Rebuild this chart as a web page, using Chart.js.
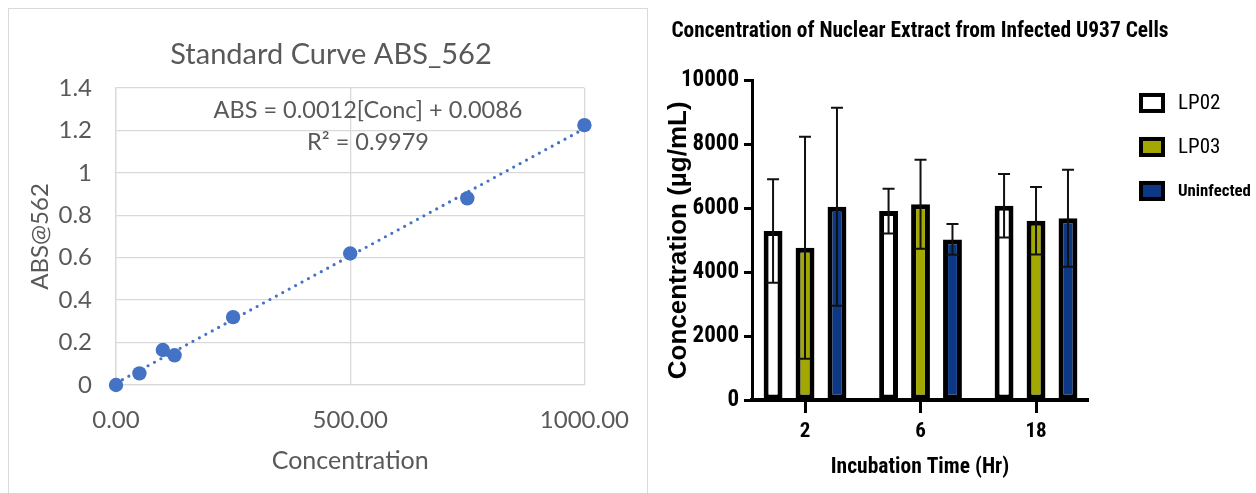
<!DOCTYPE html>
<html><head><meta charset="utf-8">
<script src="https://cdn.jsdelivr.net/npm/chart.js@4.4.1/dist/chart.umd.min.js"></script>
<style>
html,body{margin:0;padding:0;background:#fff;width:1256px;height:493px;overflow:hidden;}
#frame{position:absolute;left:8px;top:8px;width:640px;height:520px;border:1px solid #d9d9d9;box-sizing:border-box;}
#leftWrap{position:absolute;left:0;top:0;width:650px;height:493px;}
#rightWrap{position:absolute;left:650px;top:0;width:606px;height:493px;}
canvas{display:block;}
</style></head><body>
<div id="frame"></div>
<div id="leftWrap"><canvas id="left" width="650" height="493"></canvas></div>
<div id="rightWrap"><canvas id="right" width="606" height="493"></canvas></div>
<script>
// ---------- Left chart data (Standard curve) ----------
const stdConc = [0, 50, 100, 125, 250, 500, 750, 1000];
const stdAbs  = [0, 0.055, 0.165, 0.14, 0.32, 0.62, 0.88, 1.225];
const trendConc = [0, 1000];
const trendAbs  = [0.0086, 1.2086];
const xTickLabels = ['0.00', '500.00', '1000.00'];
const yTickLabels = ['0', '0.2', '0.4', '0.6', '0.8', '1', '1.2', '1.4'];
const trendText = ['ABS = 0.0012[Conc] + 0.0086', 'R\u00B2 = 0.9979'];

// ---------- Right chart data (bar chart with SD) ----------
const times = ['2', '6', '18'];
const lp02Mean = [5290, 5915, 6085];
const lp02Sd   = [1620, 700, 995];
const lp03Mean = [4770, 6130, 5615];
const lp03Sd   = [3475, 1390, 1055];
const uninfMean = [6050, 5030, 5690];
const uninfSd   = [3100, 480, 1520];
const concTickLabels = ['0', '2000', '4000', '6000', '8000', '10000'];

const F1 = "Lato, 'Open Sans', sans-serif";
const F2 = "Roboto, 'Open Sans', sans-serif";
const F3 = "'Liberation Sans', Arial, sans-serif";
const GREY = '#595959';

const trendLabelPlugin = {
  id: 'trendLabel',
  afterDatasetsDraw(chart, args, opts) {
    const {ctx} = chart; const x = chart.scales.x, y = chart.scales.y;
    ctx.save();
    ctx.font = opts.size + 'px ' + F1;
    ctx.fillStyle = GREY; ctx.textAlign = 'center'; ctx.textBaseline = 'middle';
    opts.lines.forEach((t, i) => ctx.fillText(t, x.getPixelForValue(opts.atX), y.getPixelForValue(opts.atY[i])));
    ctx.restore();
  }
};

new Chart(document.getElementById('left'), {
  type: 'scatter',
  data: { datasets: [
    { label: 'ABS', data: stdConc.map((c, i) => ({x: c, y: stdAbs[i]})), clip: false,
      backgroundColor: '#4472C4', borderColor: '#4472C4', pointRadius: 7.2, pointHoverRadius: 7.2, pointBorderWidth: 0, order: 0 },
    { type: 'line', label: 'Linear', data: trendConc.map((c, i) => ({x: c, y: trendAbs[i]})),
      borderColor: '#4472C4', borderWidth: 3.2, borderDash: [0, 7.3], borderCapStyle: 'round',
      pointRadius: 0, fill: false, order: 1 }
  ]},
  options: {
    responsive: false, animation: false, events: [],
    layout: { padding: { left: 12, right: 0, top: 0, bottom: 0 } },
    plugins: {
      legend: { display: false }, tooltip: { enabled: false },
      title: { display: true, text: 'Standard Curve ABS_562', color: GREY,
        font: { family: F1, size: 29, weight: 'normal' }, padding: { top: 37.6, bottom: 15.6 } },
      trendLabel: { lines: trendText, atX: 538, atY: [1.296, 1.145], size: 23.5 }
    },
    scales: {
      x: { type: 'linear', min: 0, max: 1000,
        ticks: { stepSize: 500, color: GREY, font: { family: F1, size: 24 }, padding: 21,
          callback: (v, i) => xTickLabels[i] },
        grid: { color: '#d9d9d9', lineWidth: 1.3, drawTicks: false },
        border: { color: '#d9d9d9', width: 1.3 },
        title: { display: true, text: 'Concentration', color: GREY, font: { family: F1, size: 25 }, padding: { top: 0, bottom: 17 } },
        afterFit(s) { s.height = 108; } },
      y: { type: 'linear', min: 0, max: 1.4,
        ticks: { stepSize: 0.2, color: GREY, font: { family: F1, size: 24 }, padding: 24,
          callback: (v, i) => yTickLabels[i] },
        grid: { color: '#d9d9d9', lineWidth: 1.3, drawTicks: false },
        border: { color: '#d9d9d9', width: 1.3 },
        title: { display: true, text: 'ABS@562', color: GREY, font: { family: F1, size: 24 }, padding: { top: 13.6, bottom: 0 } },
        afterFit(s) { s.width = 104; } },
      yR: { type: 'linear', position: 'right', display: true,
        grid: { display: false }, border: { display: false }, ticks: { display: false },
        afterFit(s) { s.width = 60; } }
    }
  },
  plugins: [trendLabelPlugin]
});

const errorBarPlugin = {
  id: 'errorBars',
  afterDatasetsDraw(chart, args, opts) {
    const {ctx} = chart; const y = chart.scales.y;
    ctx.save(); ctx.strokeStyle = opts.color; ctx.lineWidth = opts.width;
    chart.data.datasets.forEach((ds, di) => {
      const meta = chart.getDatasetMeta(di);
      meta.data.forEach((bar, i) => {
        const m = ds.data[i].y, sd = ds.sd[i];
        const top = y.getPixelForValue(m + sd), bot = y.getPixelForValue(m - sd);
        ctx.beginPath();
        ctx.moveTo(bar.x, top); ctx.lineTo(bar.x, bot);
        ctx.moveTo(bar.x - opts.cap, top); ctx.lineTo(bar.x + opts.cap, top);
        ctx.moveTo(bar.x - opts.cap, bot); ctx.lineTo(bar.x + opts.cap, bot);
        ctx.stroke();
      });
    });
    ctx.restore();
  }
};

const boxLegendPlugin = {
  id: 'boxLegend',
  afterDraw(chart, args, opts) {
    const {ctx, chartArea} = chart;
    ctx.save();
    chart.data.datasets.forEach((ds, i) => {
      const cy = chartArea.top + opts.firstY + i * opts.gap;
      const bx = chartArea.right + opts.boxX;
      ctx.fillStyle = ds.backgroundColor;
      ctx.fillRect(bx, cy - opts.boxH / 2, opts.boxW, opts.boxH);
      ctx.strokeStyle = '#000'; ctx.lineWidth = 4;
      ctx.strokeRect(bx + 2, cy - opts.boxH / 2 + 2, opts.boxW - 4, opts.boxH - 4);
      ctx.fillStyle = '#000'; ctx.textAlign = 'left'; ctx.textBaseline = 'middle';
      ctx.font = opts.fonts[i];
      ctx.fillText(ds.label, chartArea.right + opts.textX, cy + 1);
    });
    ctx.restore();
  }
};

const barCommon = { borderColor: '#000', borderWidth: 5, borderSkipped: false,
  categoryPercentage: 0.83, barPercentage: 0.59 };
const asPoints = arr => arr.map((v, i) => ({ x: i, y: v }));

new Chart(document.getElementById('right'), {
  type: 'bar',
  data: { datasets: [
    Object.assign({ label: 'LP02', data: asPoints(lp02Mean), sd: lp02Sd, backgroundColor: '#ffffff' }, barCommon),
    Object.assign({ label: 'LP03', data: asPoints(lp03Mean), sd: lp03Sd, backgroundColor: '#a2a800' }, barCommon),
    Object.assign({ label: 'Uninfected', data: asPoints(uninfMean), sd: uninfSd, backgroundColor: '#0c3886' }, barCommon)
  ]},
  options: {
    responsive: false, animation: false, events: [],
    layout: { padding: { left: 0, right: 66, top: 0, bottom: 0 } },
    plugins: {
      legend: { display: false }, tooltip: { enabled: false },
      title: { display: true, text: 'Concentration of Nuclear Extract from Infected U937 Cells', color: '#000',
        font: { family: F2, size: 21.4, weight: 'bold condensed' }, padding: { top: 19.2, bottom: 35.8 } },
      errorBars: { color: '#111', width: 2, cap: 6 },
      boxLegend: { firstY: 22.3, gap: 44, boxX: 51, boxW: 26, boxH: 20, textX: 90,
        fonts: ['condensed 21px ' + F2, 'condensed 21px ' + F2, 'bold condensed 16.8px ' + F2] }
    },
    scales: {
      x: { type: 'linear', min: -0.459, max: 2.45, offset: false,
        afterBuildTicks(s) { s.ticks = times.map((t, i) => ({ value: i })); },
        grid: { offset: false, drawOnChartArea: false, drawTicks: true, tickLength: 13, tickWidth: 3, color: '#000' },
        border: { display: true, width: 4, color: '#000' },
        ticks: { color: '#000', font: { family: F2, size: 21, weight: 'bold condensed' }, padding: 6,
          callback: (v, i) => times[i] },
        title: { display: true, text: 'Incubation Time (Hr)', color: '#000', font: { family: F2, size: 21.5, weight: 'bold condensed' }, padding: { top: 0, bottom: 12 } },
        afterFit(s) { s.height = 93; } },
      y: { min: 0, max: 10000,
        ticks: { stepSize: 2000, color: '#000', font: { family: F2, size: 23, weight: 'bold condensed' }, padding: 5,
          callback: (v, i) => concTickLabels[i] },
        grid: { drawOnChartArea: false, drawTicks: true, tickLength: 8, tickWidth: 3, color: '#000' },
        border: { display: true, width: 3, color: '#000' },
        title: { display: true, text: 'Concentration (\u00B5g/mL)', color: '#000', font: { family: F3, size: 26, weight: 'bold' }, padding: { top: 13.4, bottom: 0 } },
        afterFit(s) { s.width = 102; } },
      yR: { type: 'linear', position: 'right', display: true,
        grid: { display: false }, border: { display: false }, ticks: { display: false },
        afterFit(s) { s.width = 102; } }
    }
  },
  plugins: [errorBarPlugin, boxLegendPlugin]
});
</script>
</body></html>
